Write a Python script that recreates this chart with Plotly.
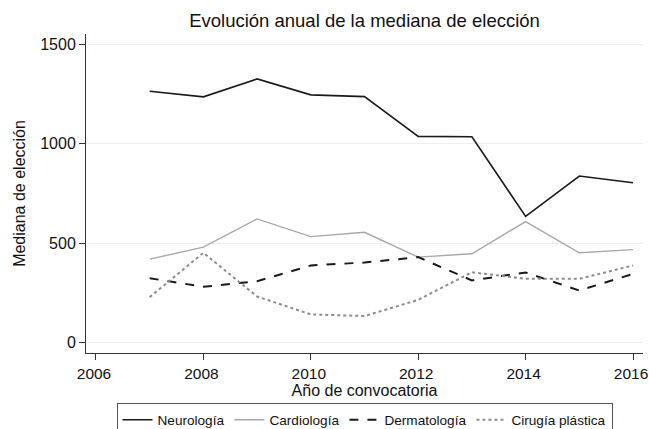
import plotly.graph_objects as go

# Convocatorias (años) y mediana del número de elección por especialidad
years = [2007, 2008, 2009, 2010, 2011, 2012, 2013, 2014, 2015, 2016]
neurologia = [1264, 1236, 1326, 1246, 1237, 1037, 1035, 635, 838, 804]
cardiologia = [420, 480, 622, 533, 555, 430, 447, 609, 452, 468]
dermatologia = [324, 281, 309, 388, 403, 430, 313, 353, 262, 346]
cirugia_plastica = [229, 452, 232, 142, 134, 215, 354, 321, 321, 388]

x_ticks = [2006, 2008, 2010, 2012, 2014, 2016]
y_ticks = [0, 500, 1000, 1500]

FONT = "Liberation Sans, Arial, sans-serif"

series = [
    ("Neurología", neurologia, dict(color="#1a1a1a", width=1.6, dash="solid")),
    ("Cardiología", cardiologia, dict(color="#a8a8a8", width=1.4, dash="solid")),
    ("Dermatología", dermatologia, dict(color="#1a1a1a", width=2.0, dash="dash")),
    ("Cirugía plástica", cirugia_plastica, dict(color="#8c8c8c", width=2.0, dash="dot")),
]

fig = go.Figure()
for name, vals, line in series:
    fig.add_trace(go.Scatter(x=years, y=vals, mode="lines", name=name, line=line))

fig.update_layout(
    width=649,
    height=429,
    margin=dict(l=86, r=6, t=34, b=76, autoexpand=False),
    paper_bgcolor="white",
    plot_bgcolor="white",
    font=dict(family=FONT, color="#111111"),
    title=dict(
        text="Evolución anual de la mediana de elección",
        x=0.5, xref="paper", xanchor="center",
        y=0.953, yanchor="middle",
        font=dict(size=18.5, family=FONT, color="#111111"),
    ),
    showlegend=True,
    legend=dict(
        orientation="h",
        x=0.5, xanchor="center",
        y=-0.158, yanchor="top",
        bordercolor="#555555", borderwidth=1,
        font=dict(size=13.6, family=FONT, color="#111111"),
        traceorder="normal",
    ),
)

fig.update_xaxes(
    range=[2005.814, 2016.186],
    tickvals=x_ticks,
    ticks="outside", ticklen=6, tickcolor="#333333", tickwidth=1,
    showline=True, linecolor="#333333", linewidth=1,
    showgrid=False, zeroline=False,
    ticklabeloverflow="allow",
    ticklabelshift=-2,
    tickfont=dict(size=15.5, family=FONT, color="#111111"),
    title=dict(text="Año de convocatoria", font=dict(size=16, family=FONT, color="#111111"), standoff=0),
)

fig.update_yaxes(
    range=[-52, 1552],
    tickvals=y_ticks,
    ticks="outside", ticklen=6, tickcolor="#333333", tickwidth=1,
    showline=True, linecolor="#333333", linewidth=1,
    showgrid=True, gridcolor="#efefef", gridwidth=1,
    zeroline=False,
    tickfont=dict(size=16, family=FONT, color="#111111"),
    title=dict(text="Mediana de elección", font=dict(size=16, family=FONT, color="#111111"), standoff=10),
)

fig.write_html("out.html")
